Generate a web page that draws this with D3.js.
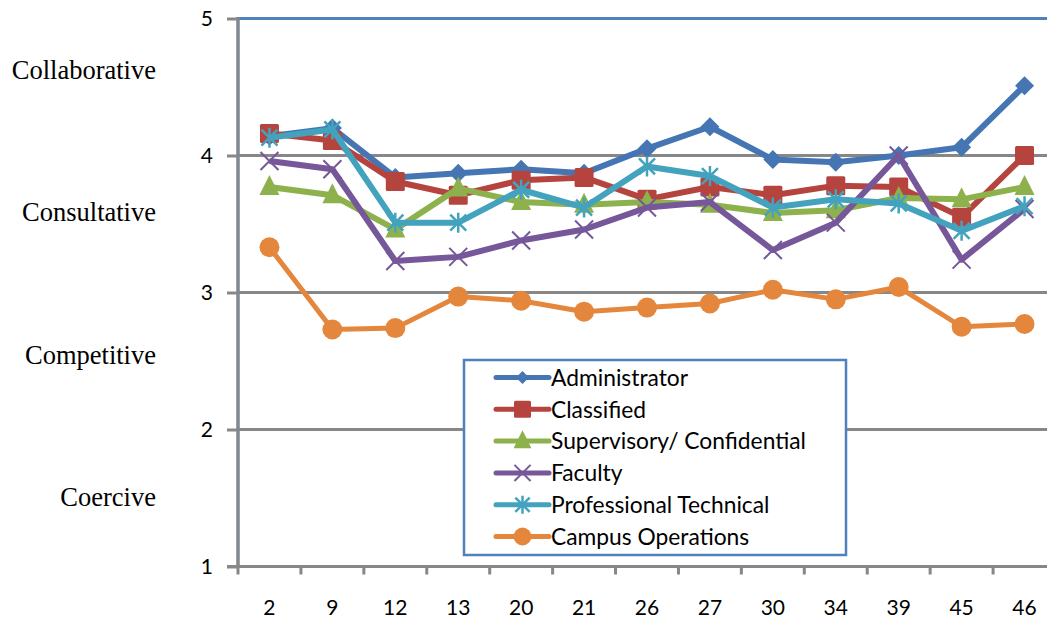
<!DOCTYPE html>
<html>
<head>
<meta charset="utf-8">
<script src="https://cdn.jsdelivr.net/npm/d3@7"></script>
<style>
  html, body { margin: 0; padding: 0; background: #ffffff; }
  svg { display: block; }
</style>
</head>
<body>
<svg id="chart" width="1047" height="620"></svg>
<script>
// Survey categories along the x axis
const categories = ["2", "9", "12", "13", "20", "21", "26", "27", "30", "34", "39", "45", "46"];

// Mean scores per employee group
const administrator = [4.14, 4.20, 3.84, 3.87, 3.90, 3.87, 4.05, 4.21, 3.97, 3.95, 4.00, 4.06, 4.51];
const classified    = [4.16, 4.11, 3.81, 3.71, 3.82, 3.84, 3.68, 3.77, 3.71, 3.78, 3.77, 3.55, 4.00];
const supervisory   = [3.77, 3.71, 3.46, 3.76, 3.66, 3.64, 3.66, 3.64, 3.58, 3.60, 3.69, 3.68, 3.77];
const faculty       = [3.96, 3.90, 3.23, 3.26, 3.38, 3.46, 3.62, 3.66, 3.31, 3.51, 4.00, 3.24, 3.61];
const profTech      = [4.13, 4.19, 3.51, 3.51, 3.75, 3.62, 3.92, 3.85, 3.62, 3.68, 3.65, 3.45, 3.63];
const campusOps     = [3.33, 2.73, 2.74, 2.97, 2.94, 2.86, 2.89, 2.92, 3.02, 2.95, 3.04, 2.75, 2.77];

const seriesNames = ["Administrator", "Classified", "Supervisory/ Confidential", "Faculty", "Professional Technical", "Campus Operations"];
const seriesValues = [administrator, classified, supervisory, faculty, profTech, campusOps];
const seriesColors = ["#4576b3", "#b5443f", "#8db14c", "#76579a", "#43a3be", "#e4873c"];
const seriesMarkers = ["diamond", "square", "triangle", "x", "asterisk", "circle"];

// Value axis ticks and the style bands written beside them
const yTicks = [1, 2, 3, 4, 5];
const styleLabels = ["Collaborative", "Consultative", "Competitive", "Coercive"];

const svg = d3.select("#chart");
const plot = { left: 238, top: 18.5, right: 1056, bottom: 566.5 };

const x = d3.scaleBand().domain(categories).range([plot.left, plot.right]).padding(0);
const y = d3.scaleLinear().domain([1, 5]).range([plot.bottom, plot.top]);
const cx = c => x(c) + x.bandwidth() / 2;

const gridColor = "#878787";
const sansFont = "Lato, 'Open Sans', sans-serif";

// Plot area border
svg.append("rect")
  .attr("x", plot.left).attr("y", plot.top)
  .attr("width", plot.right - plot.left).attr("height", plot.bottom - plot.top)
  .attr("fill", "none").attr("stroke", "#4f81bd").attr("stroke-width", 3);

// Horizontal gridlines
svg.append("g").selectAll("line")
  .data(yTicks.filter(t => t > 1 && t < 5))
  .join("line")
  .attr("x1", plot.left).attr("x2", plot.right)
  .attr("y1", d => y(d)).attr("y2", d => y(d))
  .attr("stroke", gridColor).attr("stroke-width", 3);

// Y axis
const yAxis = svg.append("g")
  .attr("transform", `translate(${plot.left},0)`)
  .call(d3.axisLeft(y).tickValues(yTicks).tickFormat(d3.format("d")).tickSize(11).tickPadding(14));
yAxis.select(".domain").attr("stroke", gridColor).attr("stroke-width", 3)
  .attr("d", `M0,${plot.top - 1}V${plot.bottom + 1.5}`);
yAxis.selectAll(".tick line").attr("stroke", gridColor).attr("stroke-width", 3);
yAxis.selectAll(".tick text")
  .attr("fill", "#000").attr("font-family", sansFont).attr("font-size", 21);

// X axis with ticks between categories
const xAxis = svg.append("g")
  .attr("transform", `translate(0,${plot.bottom})`);
xAxis.append("line")
  .attr("x1", plot.left - 11).attr("x2", plot.right)
  .attr("y1", 0).attr("y2", 0)
  .attr("stroke", gridColor).attr("stroke-width", 3);
xAxis.selectAll("line.tick")
  .data(categories.map(c => x(c)).concat([plot.right]))
  .join("line").attr("class", "tick")
  .attr("x1", d => d).attr("x2", d => d)
  .attr("y1", 0).attr("y2", 8)
  .attr("stroke", gridColor).attr("stroke-width", 3);
xAxis.selectAll("text")
  .data(categories)
  .join("text")
  .attr("x", d => cx(d)).attr("y", 48)
  .attr("text-anchor", "middle")
  .attr("font-family", sansFont).attr("font-size", 21).attr("fill", "#000")
  .text(d => d);

// Style band names on the left
svg.append("g").selectAll("text")
  .data(styleLabels)
  .join("text")
  .attr("x", 156)
  .attr("y", (d, i) => 79 + i * 142.3)
  .attr("text-anchor", "end")
  .attr("font-family", "'Liberation Serif', 'Times New Roman', serif")
  .attr("font-size", 26.5).attr("fill", "#000")
  .text(d => d);

// Marker drawing
function drawMarker(g, type, color, s) {
  const k = s / 9.5;
  if (type === "diamond") {
    g.append("path").attr("d", `M0,${-9.5 * k}L${9.5 * k},0L0,${9.5 * k}L${-9.5 * k},0Z`).attr("fill", color);
  } else if (type === "square") {
    g.append("rect").attr("x", -9.5 * k).attr("y", -9.5 * k)
      .attr("width", 19 * k).attr("height", 19 * k).attr("rx", 1.5).attr("fill", color);
  } else if (type === "triangle") {
    g.append("path").attr("d", `M0,${-12 * k}L${10 * k},${8 * k}L${-10 * k},${8 * k}Z`).attr("fill", color);
  } else if (type === "x") {
    g.append("path").attr("d", `M${-9 * k},${-9 * k}L${9 * k},${9 * k}M${9 * k},${-9 * k}L${-9 * k},${9 * k}`)
      .attr("stroke", color).attr("stroke-width", 2).attr("fill", "none");
  } else if (type === "asterisk") {
    g.append("path").attr("d", `M${-8 * k},${-8 * k}L${8 * k},${8 * k}M${8 * k},${-8 * k}L${-8 * k},${8 * k}M0,${-10 * k}L0,${10 * k}`)
      .attr("stroke", color).attr("stroke-width", 2.5).attr("fill", "none");
  } else if (type === "circle") {
    g.append("circle").attr("r", 10 * k).attr("fill", color);
  }
}

// Series lines and markers
const line = d3.line().x((d, i) => cx(categories[i])).y(d => y(d));
seriesValues.forEach((vals, si) => {
  const g = svg.append("g");
  g.append("path")
    .attr("d", line(vals))
    .attr("fill", "none")
    .attr("stroke", seriesColors[si])
    .attr("stroke-width", si === 5 ? 5 : 6)
    .attr("stroke-linejoin", "round");
  vals.forEach((v, i) => {
    const m = g.append("g").attr("transform", `translate(${cx(categories[i])},${y(v)})`);
    drawMarker(m, seriesMarkers[si], seriesColors[si], 9.5);
  });
});

// Legend
const legend = svg.append("g");
legend.append("rect")
  .attr("x", 464).attr("y", 360).attr("width", 382).attr("height", 195)
  .attr("fill", "#fff").attr("stroke", "#4f81bd").attr("stroke-width", 2.5);
seriesNames.forEach((name, si) => {
  const ly = 377.5 + si * 31.8;
  legend.append("line")
    .attr("x1", 496).attr("x2", 549).attr("y1", ly).attr("y2", ly)
    .attr("stroke", seriesColors[si]).attr("stroke-width", 5).attr("stroke-linecap", "round");
  const m = legend.append("g").attr("transform", `translate(522.5,${ly})`);
  drawMarker(m, seriesMarkers[si], seriesColors[si], si === 0 ? 6.5 : 8.5);
  legend.append("text")
    .attr("x", 551).attr("y", ly)
    .attr("dy", "0.36em")
    .attr("font-family", sansFont).attr("font-size", 22.8).attr("fill", "#000")
    .text(name);
});
</script>
</body>
</html>
